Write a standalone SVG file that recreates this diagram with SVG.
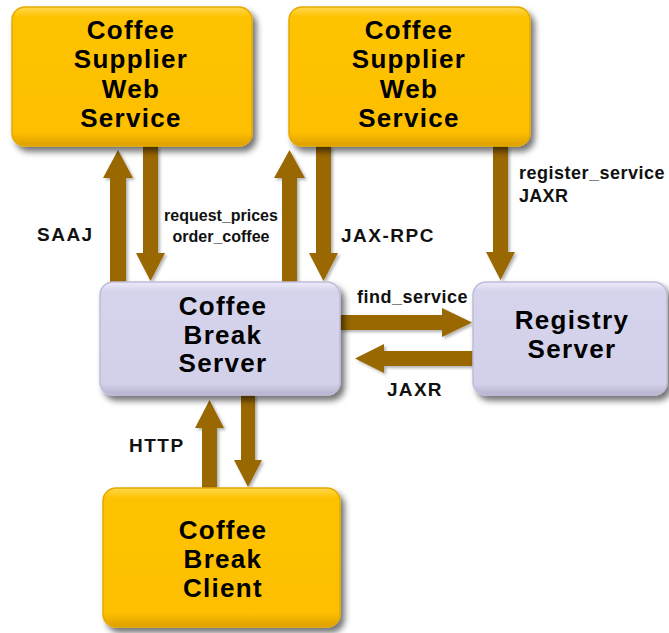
<svg xmlns="http://www.w3.org/2000/svg" width="669" height="633" viewBox="0 0 669 633">
<defs>
<linearGradient id="gy" x1="0" y1="0" x2="0" y2="1">
<stop offset="0" stop-color="#FFD84E"/>
<stop offset="0.07" stop-color="#FEC302"/>
<stop offset="0.9" stop-color="#FDBF00"/>
<stop offset="1" stop-color="#DDA000"/>
</linearGradient>
<linearGradient id="gl" x1="0" y1="0" x2="0" y2="1">
<stop offset="0" stop-color="#EDEBF9"/>
<stop offset="0.08" stop-color="#D6D4EC"/>
<stop offset="0.9" stop-color="#D3D1EA"/>
<stop offset="1" stop-color="#B4B2CE"/>
</linearGradient>
<filter id="sh" x="-10%" y="-10%" width="125%" height="130%">
<feDropShadow dx="4" dy="5" stdDeviation="3" flood-color="#000" flood-opacity="0.55"/>
</filter>
<filter id="ash" x="-20%" y="-20%" width="150%" height="150%">
<feDropShadow dx="2" dy="2" stdDeviation="1.5" flood-color="#000" flood-opacity="0.3"/>
</filter>
</defs>
<style>
.yb{fill:url(#gy);stroke:#E4AA00;stroke-width:1.5;filter:url(#sh)}
.lb{fill:url(#gl);stroke:#BEBCD8;stroke-width:1.5;filter:url(#sh)}
.nt{font-family:"Liberation Sans",Arial,sans-serif;font-weight:bold;font-size:26px;letter-spacing:1.3px;fill:#000;text-anchor:middle}
.ar{fill:#9A6700;filter:url(#ash)}
.lbl{font-family:"Liberation Sans",Arial,sans-serif;font-weight:bold;fill:#111}
</style>
<rect width="669" height="633" fill="#fff"/>
<g id="connectors">
<polygon class="ar" points="110,282 110,178 103,178 118,150 133,178 126,178 126,282"/>
<polygon class="ar" points="143,146 158,146 158,253 165,253 150.5,281 136,253 143,253"/>
<polygon class="ar" points="282,282 282,178 274,178 289.5,150 305,178 297,178 297,282"/>
<polygon class="ar" points="316,146 331,146 331,253 338,253 323.5,281 309,253 316,253"/>
<polygon class="ar" points="493,146 508,146 508,252 515,252 500.5,280 486,252 493,252"/>
<polygon class="ar" points="340,315 442,315 442,308 472,322.5 442,337 442,330 340,330"/>
<polygon class="ar" points="473,351 384,351 384,344 355,358.5 384,373 384,366 473,366"/>
<polygon class="ar" points="202,488 202,428 195,428 209.5,400 224,428 217,428 217,488"/>
<polygon class="ar" points="241,395 255,395 255,460 262,460 248,487 234,460 241,460"/>
<text class="lbl" x="37" y="241" font-size="19" letter-spacing="1.5">SAAJ</text>
<text class="lbl" x="221" y="221" font-size="16" text-anchor="middle">request_prices</text>
<text class="lbl" x="221" y="242" font-size="16" text-anchor="middle">order_coffee</text>
<text class="lbl" x="341" y="242" font-size="19" letter-spacing="1.5">JAX-RPC</text>
<text class="lbl" x="519" y="179" font-size="18" letter-spacing="0.5">register_service</text>
<text class="lbl" x="519" y="202" font-size="18" letter-spacing="0.3">JAXR</text>
<text class="lbl" x="357" y="303" font-size="18" letter-spacing="0.5">find_service</text>
<text class="lbl" x="387" y="396" font-size="19" letter-spacing="1.3">JAXR</text>
<text class="lbl" x="129" y="452" font-size="19" letter-spacing="1.5">HTTP</text>
</g>
<g id="supplier1">
<rect class="yb" x="12" y="7" width="240" height="139" rx="13"/>
<text class="nt" x="131" y="39">Coffee</text>
<text class="nt" x="131" y="68">Supplier</text>
<text class="nt" x="131" y="98">Web</text>
<text class="nt" x="131" y="127">Service</text>
</g>
<g id="supplier2">
<rect class="yb" x="289" y="7" width="241" height="139" rx="13"/>
<text class="nt" x="409" y="39">Coffee</text>
<text class="nt" x="409" y="68">Supplier</text>
<text class="nt" x="409" y="98">Web</text>
<text class="nt" x="409" y="127">Service</text>
</g>
<g id="server">
<rect class="lb" x="100" y="282" width="240" height="113" rx="13"/>
<text class="nt" x="223" y="315">Coffee</text>
<text class="nt" x="223" y="344">Break</text>
<text class="nt" x="223" y="372">Server</text>
</g>
<g id="registry">
<rect class="lb" x="473" y="282" width="194" height="113" rx="13"/>
<text class="nt" x="572" y="329">Registry</text>
<text class="nt" x="572" y="358">Server</text>
</g>
<g id="client">
<rect class="yb" x="103" y="488" width="237" height="139" rx="13"/>
<text class="nt" x="223" y="539">Coffee</text>
<text class="nt" x="223" y="568">Break</text>
<text class="nt" x="223" y="597">Client</text>
</g>
</svg>
